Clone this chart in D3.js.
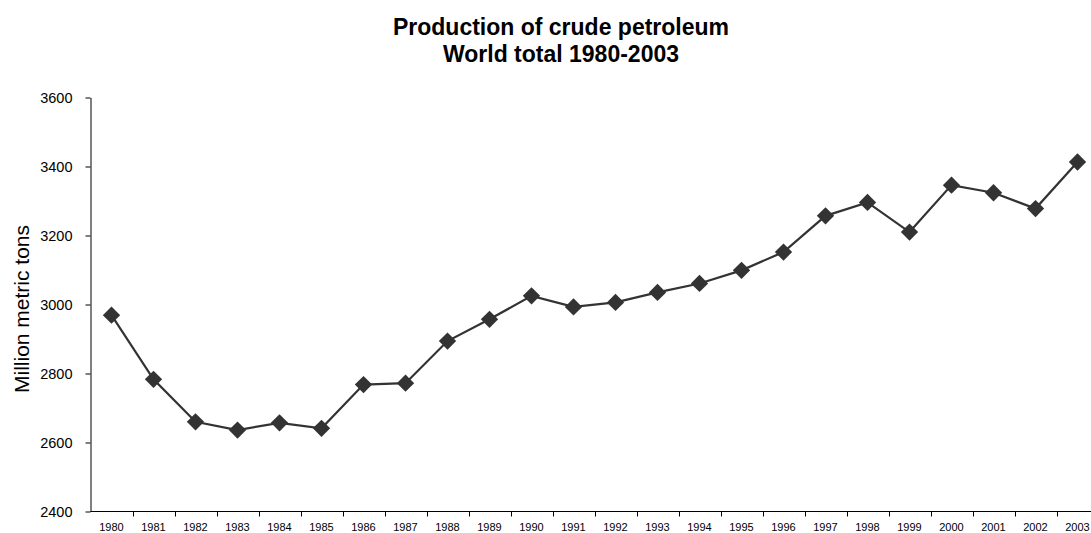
<!DOCTYPE html>
<html lang="en">
<head>
  <title>Production of crude petroleum</title>
  <meta charset="utf-8">
  <script src="https://d3js.org/d3.v7.min.js"></script>
  <style>
    body { margin: 0; background: #fff; }
    svg { display: block; font-family: "Liberation Sans", Arial, sans-serif; }
  </style>
</head>
<body>
<div class="chart"></div>

<script type="text/javascript">

// world total, million metric tons
var years = ["1980","1981","1982","1983","1984","1985","1986","1987","1988","1989","1990","1991",
             "1992","1993","1994","1995","1996","1997","1998","1999","2000","2001","2002","2003"];
var production = [2969, 2783, 2660, 2636, 2657, 2641, 2768, 2772, 2894, 2957, 3025, 2993,
                  3006, 3035, 3061, 3099, 3152, 3257, 3296, 3210, 3346, 3324, 3278, 3413];
var yTicks = [2400, 2600, 2800, 3000, 3200, 3400, 3600];
var titleLines = ["Production of crude petroleum", "World total 1980-2003"];
var yLabel = "Million metric tons";

var width = 1091,
    height = 533;

var svg = d3.select(".chart").append("svg")
    .attr("width", width)
    .attr("height", height);

svg.append("rect").attr("width", width).attr("height", height).attr("fill", "#fff");

// the plot runs a little past the right edge, like the original
var x = d3.scaleBand()
    .domain(years)
    .range([90.5, 1098.5])
    .padding(0);

var y = d3.scaleLinear()
    .domain([2400, 3600])
    .range([511.5, 97.5]);

// y axis
var yAxis = svg.append("g")
    .attr("transform", "translate(90.5,0)")
    .call(d3.axisLeft(y).tickValues(yTicks).tickFormat(d3.format("d"))
      .tickSize(5).tickPadding(13).tickSizeOuter(0));
yAxis.attr("font-size", null).attr("font-family", null);
yAxis.select(".domain").attr("stroke", "#000");
yAxis.selectAll(".tick line").attr("stroke", "#000");
yAxis.selectAll(".tick text")
    .style("font-size", "14.5px")
    .attr("fill", "#000");

// x axis: ticks sit on the band edges, labels in the middle
var xAxis = svg.append("g")
    .attr("transform", "translate(0,511.5)");
xAxis.append("line")
    .attr("x1", 90.5).attr("x2", 1098.5)
    .attr("stroke", "#000");
xAxis.selectAll("line.tk")
    .data(years)
    .enter()
    .append("line")
    .attr("class", "tk")
    .attr("x1", function(d){ return Math.round(x(d) + x.bandwidth()) + 0.5; })
    .attr("x2", function(d){ return Math.round(x(d) + x.bandwidth()) + 0.5; })
    .attr("y1", 0).attr("y2", 5)
    .attr("stroke", "#000");
xAxis.selectAll("text")
    .data(years)
    .enter()
    .append("text")
    .attr("x", function(d){ return x(d) + x.bandwidth() / 2; })
    .attr("y", 19.5)
    .attr("text-anchor", "middle")
    .attr("font-size", 11)
    .text(function(d){ return d; });

// line + diamond markers
var line = d3.line()
    .x(function(d, i){ return x(years[i]) + x.bandwidth() / 2; })
    .y(function(d){ return y(d); });

svg.append("path")
    .datum(production)
    .attr("d", line)
    .attr("fill", "none")
    .attr("stroke", "#333")
    .attr("stroke-width", 2.2);

svg.selectAll("path.marker")
    .data(production)
    .enter()
    .append("path")
    .attr("class", "marker")
    .attr("d", d3.symbol().type(d3.symbolSquare).size(150))
    .attr("transform", function(d, i){
      return "translate(" + (x(years[i]) + x.bandwidth() / 2) + "," + y(d) + ") rotate(45)";
    })
    .attr("fill", "#333");

// titles
svg.selectAll("text.title")
    .data(titleLines)
    .enter()
    .append("text")
    .attr("class", "title")
    .attr("x", 561)
    .attr("y", function(d, i){ return 35 + i * 26.5; })
    .attr("text-anchor", "middle")
    .attr("font-size", 23)
    .attr("font-weight", "bold")
    .text(function(d){ return d; });

svg.append("text")
    .attr("transform", "translate(29,309) rotate(-90)")
    .attr("text-anchor", "middle")
    .attr("font-size", 21)
    .text(yLabel);

</script>
</body>
</html>
